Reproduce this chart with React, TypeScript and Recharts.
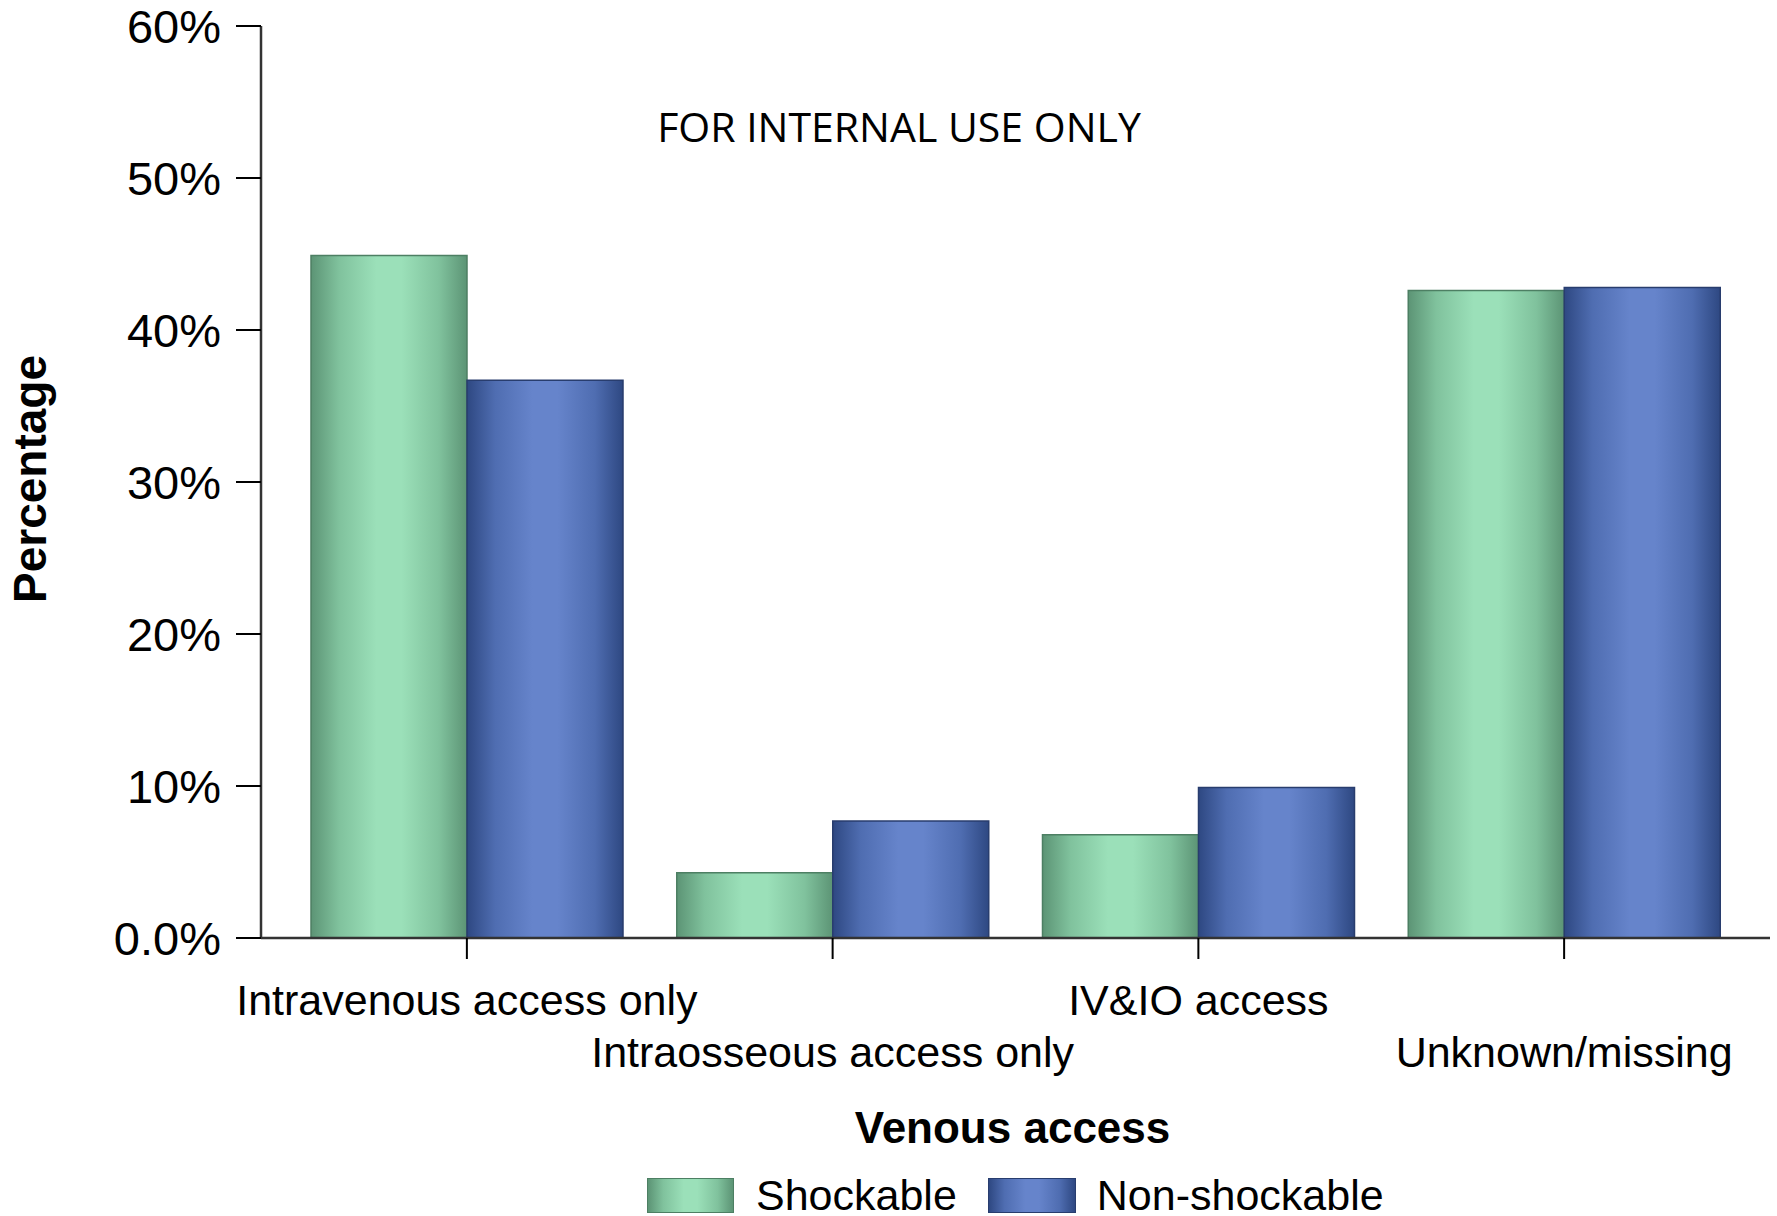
import React from 'react';
import { BarChart, Bar, XAxis, YAxis, Legend, Label } from 'recharts';

const categories = ['Intravenous access only', 'Intraosseous access only', 'IV&IO access', 'Unknown/missing'];
const shockable = [44.9, 4.3, 6.8, 42.6];
const nonShockable = [36.7, 7.7, 9.9, 42.8];
const yTicks = [0, 10, 20, 30, 40, 50, 60];
const seriesNames = ['Shockable', 'Non-shockable'];
const watermark = 'FOR INTERNAL USE ONLY';
const xTitle = 'Venous access';
const yTitle = 'Percentage';

const data = categories.map((c, i) => ({ category: c, shockable: shockable[i], nonShockable: nonShockable[i] }));

const FONT = '"Liberation Sans", Arial, Helvetica, sans-serif';
const GREEN = { dark: '#5c9475', mid: '#80c29d', light: '#9be0b9', stroke: '#4d7f63' };
const BLUE = { dark: '#2e4882', mid: '#4f6db1', light: '#6684cb', stroke: '#283d6e' };

const cssGrad = (c: typeof GREEN) =>
  `linear-gradient(to right, ${c.dark} 0%, ${c.mid} 18%, ${c.light} 42%, ${c.light} 58%, ${c.mid} 82%, ${c.dark} 100%)`;

const XTick = (props: any) => {
  const { x, y, payload } = props;
  const idx = categories.indexOf(payload.value);
  const dy = idx % 2 === 0 ? 56 : 108;
  return (
    <text x={x} y={y + dy} textAnchor="middle" fontFamily={FONT} fontSize={43} fill="#000">
      {payload.value}
    </text>
  );
};

const LegendContent = () => (
  <div style={{ display: 'flex', alignItems: 'center', fontFamily: FONT, fontSize: 43, lineHeight: '35px', color: '#000', whiteSpace: 'nowrap', height: 35 }}>
    <span style={{ display: 'inline-block', width: 87, height: 35, background: cssGrad(GREEN), border: `1px solid ${GREEN.stroke}`, boxSizing: 'border-box' }} />
    <span style={{ marginLeft: 22, lineHeight: '35px' }}>{seriesNames[0]}</span>
    <span style={{ display: 'inline-block', marginLeft: 31, width: 88, height: 35, background: cssGrad(BLUE), border: `1px solid ${BLUE.stroke}`, boxSizing: 'border-box' }} />
    <span style={{ marginLeft: 21, lineHeight: '35px' }}>{seriesNames[1]}</span>
  </div>
);

export default function App() {
  return (
    <div style={{ position: 'absolute', left: 0, top: 0, width: 1777, height: 1216, background: '#fff' }}>
      <BarChart
        width={1777}
        height={1216}
        data={data}
        margin={{ top: 26, right: 7, bottom: 0, left: 0 }}
        barCategoryGap={27}
        barGap={0}
      >
        <defs>
          <linearGradient id="gradGreen" x1="0" y1="0" x2="1" y2="0">
            <stop offset="0%" stopColor={GREEN.dark} />
            <stop offset="18%" stopColor={GREEN.mid} />
            <stop offset="42%" stopColor={GREEN.light} />
            <stop offset="58%" stopColor={GREEN.light} />
            <stop offset="82%" stopColor={GREEN.mid} />
            <stop offset="100%" stopColor={GREEN.dark} />
          </linearGradient>
          <linearGradient id="gradBlue" x1="0" y1="0" x2="1" y2="0">
            <stop offset="0%" stopColor={BLUE.dark} />
            <stop offset="18%" stopColor={BLUE.mid} />
            <stop offset="42%" stopColor={BLUE.light} />
            <stop offset="58%" stopColor={BLUE.light} />
            <stop offset="82%" stopColor={BLUE.mid} />
            <stop offset="100%" stopColor={BLUE.dark} />
          </linearGradient>
        </defs>
        <XAxis
          dataKey="category"
          height={278}
          padding={{ left: 23, right: 23 }}
          interval={0}
          tickSize={21}
          tickMargin={0}
          tick={<XTick />}
          axisLine={{ stroke: '#333', strokeWidth: 2.5 }}
          tickLine={{ stroke: '#000', strokeWidth: 2 }}
        >
          <Label
            content={(p: any) => {
              const vb = p.viewBox || { x: 261, width: 1509 };
              return (
                <text x={vb.x + vb.width / 2 - 3} y={1143} textAnchor="middle" fontFamily={FONT} fontWeight="bold" fontSize={44} fill="#000">
                  {xTitle}
                </text>
              );
            }}
          />
        </XAxis>
        <YAxis
          width={261}
          domain={[0, 60]}
          ticks={yTicks}
          interval={0}
          tickSize={25}
          tickMargin={15}
          tickFormatter={(v: number) => (v === 0 ? '0.0%' : `${v}%`)}
          tick={{ fontSize: 47, fill: '#000', fontFamily: FONT }}
          axisLine={{ stroke: '#333', strokeWidth: 2.5 }}
          tickLine={{ stroke: '#000', strokeWidth: 2 }}
        >
          <Label
            content={() => (
              <text x={46} y={479} transform="rotate(-90 46 479)" textAnchor="middle" fontFamily={FONT} fontWeight="bold" fontSize={46} fill="#000">
                {yTitle}
              </text>
            )}
          />
        </YAxis>
        <Legend
          layout="horizontal"
          verticalAlign="middle"
          align="center"
          content={<LegendContent />}
          wrapperStyle={{ position: 'absolute', left: 647, top: 1178, width: 900, height: 35 }}
        />
        <Bar dataKey="shockable" name={seriesNames[0]} fill="url(#gradGreen)" stroke={GREEN.stroke} strokeWidth={1.5} isAnimationActive={false} />
        <Bar dataKey="nonShockable" name={seriesNames[1]} fill="url(#gradBlue)" stroke={BLUE.stroke} strokeWidth={1.5} isAnimationActive={false} />
      </BarChart>
      <svg width={1777} height={200} style={{ position: 'absolute', left: 0, top: 0, pointerEvents: 'none' }}>
        <text x={899} y={142} textAnchor="middle" fontFamily='"Open Sans", sans-serif' fontSize={41} fill="#000">
          {watermark}
        </text>
      </svg>
    </div>
  );
}
